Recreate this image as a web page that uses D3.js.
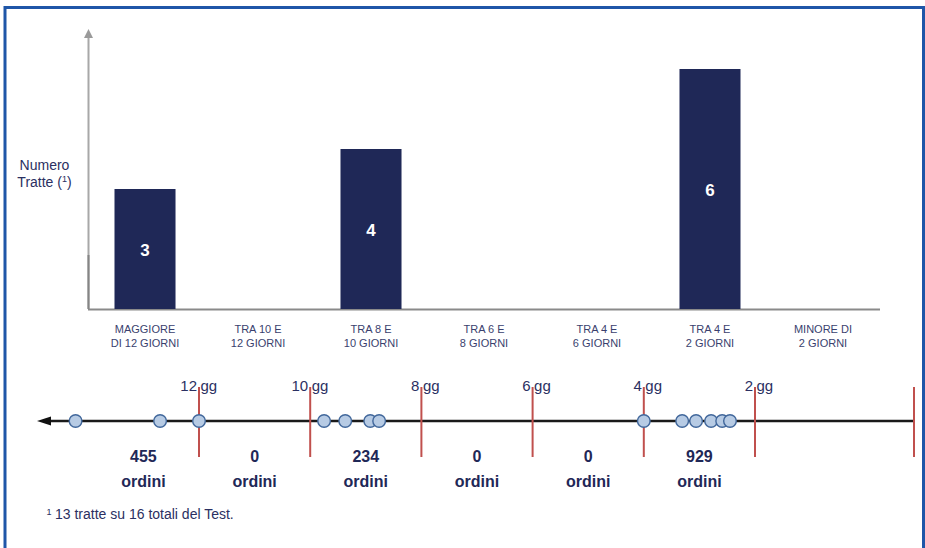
<!DOCTYPE html>
<html>
<head>
<meta charset="utf-8">
<script src="https://cdn.jsdelivr.net/npm/d3@7"></script>
<style>
  body { margin: 0; background: #fff; }
  text { font-family: "Liberation Sans", Arial, sans-serif; }
</style>
</head>
<body>
<svg class="data-chart" width="925" height="548"></svg>
<script>
// bar chart: numero tratte per fascia
var categories = [
  ["MAGGIORE", "DI 12 GIORNI"],
  ["TRA 10 E", "12 GIORNI"],
  ["TRA 8 E", "10 GIORNI"],
  ["TRA 6 E", "8 GIORNI"],
  ["TRA 4 E", "6 GIORNI"],
  ["TRA 4 E", "2 GIORNI"],
  ["MINORE DI", "2 GIORNI"]
];
var tratte = [3, 0, 4, 0, 0, 6, 0];

// timeline (giorni)
var dayTicks = [12, 10, 8, 6, 4, 2];
var tratteDays = [14.22, 12.7, 12.0, 9.75, 9.37, 8.92, 8.76, 4.0, 3.31, 3.06, 2.79, 2.59, 2.45];
var ordini = [455, 0, 234, 0, 0, 929];
var ordiniDays = [13, 11, 9, 7, 5, 3];

var navy = "#1f2857",
  textColor = "#2b3062",
  red = "#c0504d";

var svg = d3.select(".data-chart");

// frame
svg
  .append("rect")
  .attr("x", 5)
  .attr("y", 7.5)
  .attr("width", 918.5)
  .attr("height", 580)
  .attr("fill", "none")
  .attr("stroke", "#1f56a8")
  .attr("stroke-width", 3);

var x = d3
  .scaleBand()
  .domain(d3.range(categories.length))
  .range([88, 880])
  .paddingInner(0.46)
  .paddingOuter(0.2345);

var y = d3.scaleLinear().domain([0, 7]).range([309, 29]);

// y axis with arrow
svg
  .append("line")
  .attr("x1", 88.5)
  .attr("x2", 88.5)
  .attr("y1", y(0))
  .attr("y2", y(7) + 6)
  .attr("stroke", "#a8a8a8")
  .attr("stroke-width", 2);
svg
  .append("line")
  .attr("x1", 88.5)
  .attr("x2", 88.5)
  .attr("y1", y(0))
  .attr("y2", y(0) - 54)
  .attr("stroke", "#858585")
  .attr("stroke-width", 2);
svg
  .append("path")
  .attr("d", "M88.5," + y(7) + "l-4.5,9h9z")
  .attr("fill", "#9a9a9a");

// baseline
svg
  .append("line")
  .attr("x1", 88)
  .attr("x2", 880)
  .attr("y1", y(0) + 0.5)
  .attr("y2", y(0) + 0.5)
  .attr("stroke", "#8a8a8a")
  .attr("stroke-width", 2);

// y label
var ylab = svg
  .append("text")
  .attr("x", 44.5)
  .attr("y", 170)
  .attr("text-anchor", "middle")
  .attr("font-size", 14)
  .attr("fill", textColor);
ylab.append("tspan").text("Numero");
var l2 = ylab
  .append("tspan")
  .attr("x", 44.5)
  .attr("dy", 17)
  .text("Tratte (");
l2.append("tspan")
  .attr("font-size", 9)
  .attr("dy", -5)
  .text("1");
l2.append("tspan")
  .attr("dy", 5)
  .text(")");

// bars
var bars = categories.map(function(c, i) {
  return { i: i, value: tratte[i] };
});
svg
  .selectAll(".bar")
  .data(bars.filter(function(d) { return d.value > 0; }))
  .enter()
  .append("rect")
  .attr("class", "bar")
  .attr("x", function(d) { return x(d.i); })
  .attr("y", function(d) { return y(d.value); })
  .attr("width", x.bandwidth())
  .attr("height", function(d) { return y(0) - y(d.value); })
  .attr("fill", navy);

svg
  .selectAll(".bar-label")
  .data(bars.filter(function(d) { return d.value > 0; }))
  .enter()
  .append("text")
  .attr("class", "bar-label")
  .attr("x", function(d) { return x(d.i) + x.bandwidth() / 2; })
  .attr("y", function(d) { return (y(d.value) + y(0)) / 2 + 7; })
  .attr("text-anchor", "middle")
  .attr("font-size", 17)
  .attr("font-weight", "bold")
  .attr("fill", "#fff")
  .text(function(d) { return d.value; });

// category labels
var cat = svg
  .selectAll(".cat")
  .data(categories)
  .enter()
  .append("text")
  .attr("class", "cat")
  .attr("text-anchor", "middle")
  .attr("font-size", 11)
  .attr("fill", "#3a3f6e");
cat.each(function(lines, i) {
  var t = d3.select(this);
  lines.forEach(function(s, j) {
    t.append("tspan")
      .attr("x", x(i) + x.bandwidth() / 2)
      .attr("y", 333 + j * 14)
      .text(s);
  });
});

// timeline
var t = d3.scaleLinear().domain([12, 2]).range([199, 755]);
var lineY = 421,
  lineLeft = 37,
  lineRight = 914;

svg
  .append("line")
  .attr("x1", lineLeft + 8)
  .attr("x2", lineRight)
  .attr("y1", lineY)
  .attr("y2", lineY)
  .attr("stroke", "#1a1a1a")
  .attr("stroke-width", 2.5);
svg
  .append("path")
  .attr("d", "M" + lineLeft + "," + lineY + "l14,-4.5v9z")
  .attr("fill", "#111");

// red ticks
svg
  .selectAll(".tick-red")
  .data(dayTicks.map(t).concat([lineRight]))
  .enter()
  .append("line")
  .attr("class", "tick-red")
  .attr("x1", function(d) { return d; })
  .attr("x2", function(d) { return d; })
  .attr("y1", 387)
  .attr("y2", 457)
  .attr("stroke", red)
  .attr("stroke-width", 2);

// tick labels: number left, "gg" right of the tick
var tl = svg
  .selectAll(".tick-label")
  .data(dayTicks)
  .enter()
  .append("g")
  .attr("class", "tick-label")
  .attr("font-size", 15)
  .attr("fill", textColor);
tl.append("text")
  .attr("x", function(d) { return t(d) - 2; })
  .attr("y", 390.5)
  .attr("text-anchor", "end")
  .text(function(d) { return d; });
tl.append("text")
  .attr("x", function(d) { return t(d) + 1.5; })
  .attr("y", 390.5)
  .text("gg");

// dots (one per tratta)
svg
  .selectAll(".dot")
  .data(tratteDays)
  .enter()
  .append("circle")
  .attr("class", "dot")
  .attr("cx", function(d) { return t(d); })
  .attr("cy", lineY)
  .attr("r", 6.3)
  .attr("fill", "#b7cbe4")
  .attr("stroke", "#41679b")
  .attr("stroke-width", 1.4);

// ordini labels
var ol = svg
  .selectAll(".ordini")
  .data(ordini)
  .enter()
  .append("text")
  .attr("class", "ordini")
  .attr("text-anchor", "middle")
  .attr("font-size", 16)
  .attr("font-weight", "bold")
  .attr("fill", navy);
ol.append("tspan")
  .attr("x", function(d, i) { return t(ordiniDays[i]); })
  .attr("y", 462)
  .text(function(d) { return d; });
ol.append("tspan")
  .attr("x", function(d, i) { return t(ordiniDays[i]); })
  .attr("y", 487)
  .text("ordini");

// footnote
var fn = svg
  .append("text")
  .attr("x", 46.5)
  .attr("y", 519)
  .attr("font-size", 14)
  .attr("fill", textColor);
fn.append("tspan")
  .attr("font-size", 9)
  .attr("dy", -4)
  .text("1");
fn.append("tspan")
  .attr("x", 55)
  .attr("dy", 4)
  .text("13 tratte su 16 totali del Test.");
</script>
</body>
</html>
